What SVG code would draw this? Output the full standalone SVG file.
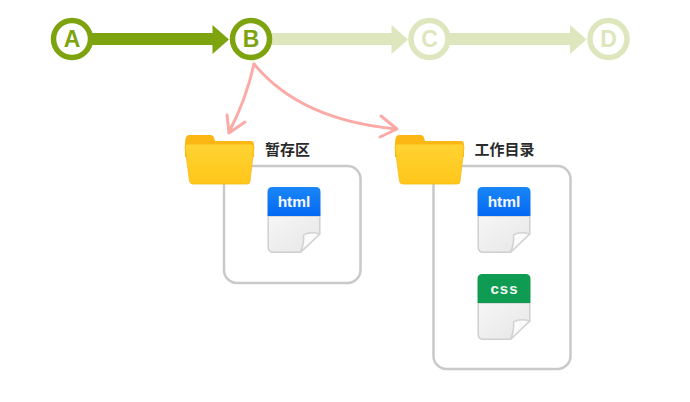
<svg xmlns="http://www.w3.org/2000/svg" width="690" height="402" viewBox="0 0 690 402">
<style>
.c{fill:#fff;stroke-width:5.5}
.t{font-family:"Liberation Sans",Arial,sans-serif;font-weight:700;text-anchor:middle}
.n{font-size:23px}
.on{stroke:#7da30f}.ont{fill:#7da30f}.onf{fill:#7da30f}
.off{stroke:#dde6bd}.offt{fill:#dde6bd}.off2{fill:#dde6bd}
.panel{fill:#fff;stroke:#c9c9c9;stroke-width:2.5}
.pink{fill:none;stroke:#fbaaa6;stroke-width:3;stroke-linecap:round;stroke-linejoin:round}
.lbl{font-family:"Noto Sans CJK SC","Noto Sans CJK TC",sans-serif;font-weight:700;font-size:15px;fill:#2a2a2a}
.dt{font-size:15.500px;fill:#f4f8ff}
.dc{font-size:15px;letter-spacing:1px;fill:#f4f8f4}
.paper{fill:url(#pg);stroke:#cfcfcf;stroke-width:1.500}
.fold{fill:#fbfbfb;stroke:#d2d2d2;stroke-width:1.500;stroke-linejoin:round}
</style>
<defs>
<linearGradient id="fb" x1="0" y1="0" x2="0" y2="1"><stop offset="0" stop-color="#ffd333"/><stop offset="1" stop-color="#ffc61a"/></linearGradient>
<linearGradient id="pg" x1="0" y1="0" x2="1" y2="1"><stop offset="0" stop-color="#f6f6f6"/><stop offset="1" stop-color="#e6e6e6"/></linearGradient>
<linearGradient id="blue" x1="0" y1="0" x2="0" y2="1"><stop offset="0" stop-color="#1a86f5"/><stop offset="1" stop-color="#0569f5"/></linearGradient>
<g id="folder">
<path d="M0 9 Q0 0 4 0 H26 Q29 0 30 6 H66 Q69 6 69 10 V22 H0Z" fill="#fdb714"/>
<path d="M0 12 Q0 9 3 9 H66 Q69 9 69 12 L65 46 Q65 49 62 49 H8 Q5 49 4.500 46Z" fill="url(#fb)" stroke="#ffb70f" stroke-width="0.800"/>
</g>
<g id="doc">
<path class="paper" d="M0.700 29 H52.300 V47 L33 65.300 H6 Q0.700 65.300 0.700 60Z"/>
<path class="fold" d="M52.300 47 Q42 44 36 48 Q37 56 33 65.300Z"/>
</g>
</defs>
<rect width="690" height="402" fill="#fff"/>
<g id="connectors">
<path class="onf" d="M92 33H212.500V25L229 39.500 212.500 54V45H92Z"/>
<path class="off2" d="M271 33H391.500V25L408 39.500 391.500 54V45H271Z"/>
<path class="off2" d="M450 33H570V25L586.500 39.500 570 54V45H450Z"/>
<path class="pink" d="M254 64Q246 100 229 132"/>
<path class="pink" d="M227 115L229 133 245 122"/>
<path class="pink" d="M254 64Q300 120 396 129"/>
<path class="pink" d="M381 116L397 129 380 137"/>
</g>
<g id="node-a"><circle class="c on" cx="72" cy="39" r="18.500"/><text class="t n ont" x="72" y="47">A</text></g>
<g id="node-b"><circle class="c on" cx="251" cy="39" r="18.500"/><text class="t n ont" x="251" y="47">B</text></g>
<g id="node-c"><circle class="c off" cx="429.500" cy="39" r="18.500"/><text class="t n offt" x="429.500" y="47">C</text></g>
<g id="node-d"><circle class="c off" cx="608.500" cy="39" r="18.500"/><text class="t n offt" x="608.500" y="47">D</text></g>
<g id="stage">
<rect class="panel" x="224" y="166" width="136.500" height="117" rx="13"/>
<use href="#folder" x="185" y="135"/>
<text class="lbl" x="265" y="154.500">暂存区</text>
<g id="stage-html"><use href="#doc" x="267.500" y="187"/><path d="M267.500 216V192Q267.500 187 272.500 187H315.500Q320.500 187 320.500 192V216Z" fill="url(#blue)"/><text class="t dt" x="294" y="207">html</text></g>
</g>
<g id="workdir">
<rect class="panel" x="433.500" y="166" width="137" height="203" rx="13"/>
<use href="#folder" x="395" y="135"/>
<text class="lbl" x="474.500" y="154.500">工作目录</text>
<g id="work-html"><use href="#doc" x="477.500" y="187"/><path d="M477.500 216V192Q477.500 187 482.500 187H525.500Q530.500 187 530.500 192V216Z" fill="url(#blue)"/><text class="t dt" x="504" y="207">html</text></g>
<g id="work-css"><use href="#doc" x="477.500" y="274"/><path d="M477.500 303V279Q477.500 274 482.500 274H525.500Q530.500 274 530.500 279V303Z" fill="#0f9b52"/><text class="t dc" x="504.500" y="294">css</text></g>
</g>
</svg>
